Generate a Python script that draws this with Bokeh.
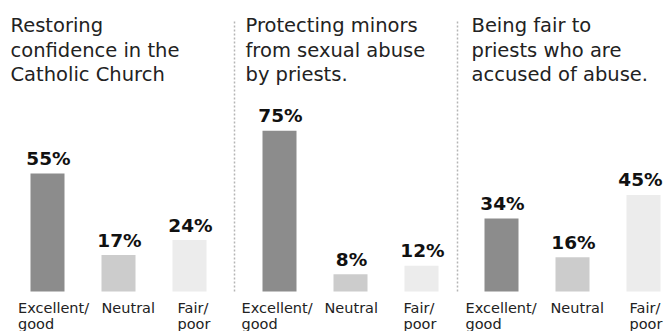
from bokeh.plotting import figure
from bokeh.models import Range1d
from bokeh.core.properties import value
from bokeh.embed import file_html
from bokeh.resources import INLINE

# ---- data ----
panel_titles = [
    ["Restoring", "confidence in the", "Catholic Church"],
    ["Protecting minors", "from sexual abuse", "by priests."],
    ["Being fair to", "priests who are", "accused of abuse."],
]
category_lines = [["Excellent/", "good"], ["Neutral"], ["Fair/", "poor"]]
excellent_good = [55, 75, 34]
neutral = [17, 8, 16]
fair_poor = [24, 12, 45]

# ---- layout ----
W, H = 665, 331
BASE = 291          # pixel row of the 0% baseline
PX = 2.145          # pixels per percentage point
def yd(py):
    return (BASE - py) / PX

FONT = value("DejaVu Sans")
bar_colors = ["#8c8c8c", "#cccccc", "#ececec"]
first_bar_center = [47, 279, 501]
bar_step = 71
bar_w = 34
title_left = [10, 245, 471]
label_left = [[17.5, 101, 177], [241, 324, 403], [465, 550, 629]]
separators_x = [234, 457]

p = figure(width=W, height=H, x_range=Range1d(0, W), y_range=Range1d(yd(H), yd(0)),
           output_backend="svg", toolbar_location=None, min_border=0,
           x_axis_location=None, y_axis_location=None)
p.grid.visible = False
p.outline_line_color = None
p.background_fill_color = "white"
p.border_fill_color = "white"

series = [excellent_good, neutral, fair_poor]

# separators
p.segment(x0=separators_x, x1=separators_x, y0=[yd(291)] * 2, y1=[yd(20)] * 2,
          line_color="#b5b5b5", line_width=1.5, line_dash="2 2")

bx, bt, bc, lx, ly, lt = [], [], [], [], [], []
for i in range(3):
    for j in range(3):
        v = series[j][i]
        c = first_bar_center[i] + bar_step * j
        bx.append(c); bt.append(v); bc.append(bar_colors[j])
        lx.append(min(c + 1, 640)); ly.append(v + 15 / PX); lt.append(f"{v}%")

p.vbar(x=bx, top=bt, bottom=0, width=bar_w, fill_color=bc, line_color=None)
p.text(x=lx, y=ly, text=lt, text_font=FONT, text_font_style="bold",
       text_font_size="18.5px", text_align="center", text_baseline="alphabetic",
       text_color="#111111")

# titles
tx, ty, tt = [], [], []
for i, lines in enumerate(panel_titles):
    for k, line in enumerate(lines):
        tx.append(title_left[i]); ty.append(yd(25 + 24.5 * k)); tt.append(line)
p.text(x=tx, y=ty, text=tt, text_font=FONT, text_font_size="19.5px",
       text_align="left", text_baseline="alphabetic", text_color="#222222")

# category labels
cx, cy, ct = [], [], []
for i in range(3):
    for j, lines in enumerate(category_lines):
        for k, line in enumerate(lines):
            cx.append(label_left[i][j]); cy.append(yd(307.5 + 15.5 * k)); ct.append(line)
p.text(x=cx, y=cy, text=ct, text_font=FONT, text_font_size="14.5px",
       text_align="left", text_baseline="alphabetic", text_color="#222222")

open("out.html", "w").write(file_html(p, INLINE))
